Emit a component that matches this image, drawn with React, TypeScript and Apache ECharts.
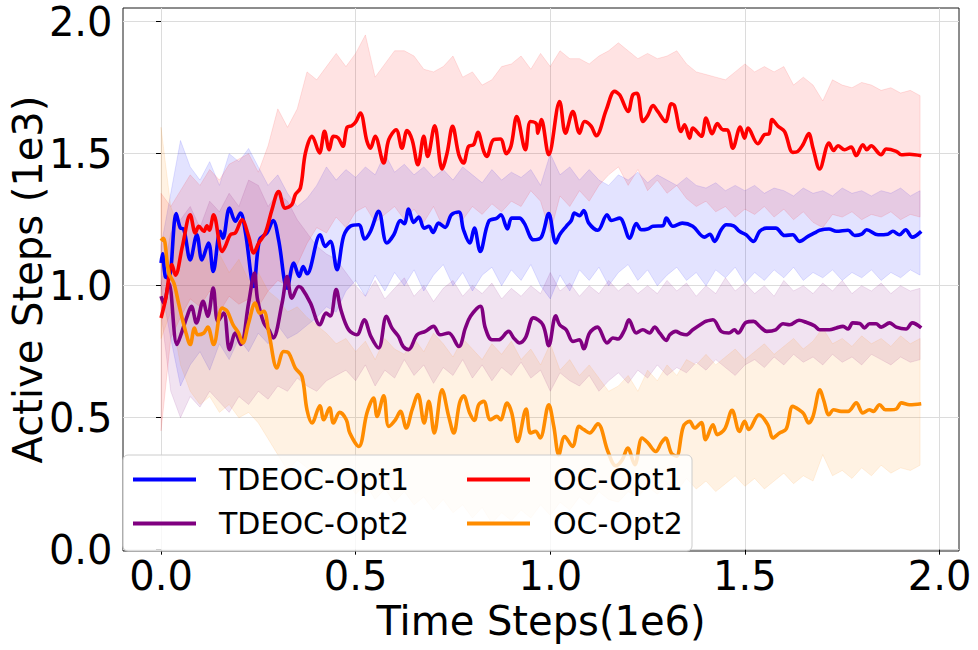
import React, { useEffect, useRef } from 'react';
import * as echarts from 'echarts';

const FONT = 'DejaVu Sans';

// Axis ticks (time in 1e6 steps, active steps in 1e3)
const X_TICKS = [0, 0.5, 1, 1.5, 2];
const Y_TICKS = [0, 0.5, 1, 1.5, 2];

// Std bands are sampled every BAND_STEP (1e6 time steps), from 0 to 1.95
const BAND_STEP = 0.025;

// ---- TDEOC-Opt1 ----
const TDEOC_OPT1_MEAN = [
  [0, 1.086], [0.004, 1.121], [0.011, 1.035], [0.02, 1.03], [0.039, 1.273], [0.05, 1.218], [0.058, 1.215],
  [0.075, 1.098], [0.092, 1.193], [0.105, 1.098], [0.122, 1.162], [0.134, 1.054], [0.152, 1.206], [0.159, 1.18],
  [0.176, 1.294], [0.191, 1.244], [0.204, 1.275], [0.217, 1.2], [0.238, 0.997], [0.253, 1.174], [0.272, 1.2],
  [0.288, 1.247], [0.302, 1.174], [0.324, 0.991], [0.341, 1.086], [0.355, 1.035], [0.365, 1.073], [0.375, 1.045],
  [0.409, 1.193], [0.422, 1.149], [0.435, 1.168], [0.452, 1.061], [0.469, 1.187], [0.486, 1.225], [0.508, 1.231],
  [0.523, 1.177], [0.538, 1.206], [0.559, 1.282], [0.58, 1.162], [0.598, 1.193], [0.615, 1.247], [0.625, 1.235],
  [0.636, 1.29], [0.649, 1.24], [0.662, 1.26], [0.676, 1.218], [0.688, 1.225], [0.699, 1.202], [0.713, 1.237],
  [0.73, 1.221], [0.746, 1.269], [0.765, 1.279], [0.777, 1.212], [0.793, 1.162], [0.805, 1.218], [0.82, 1.13],
  [0.842, 1.244], [0.863, 1.256], [0.873, 1.269], [0.89, 1.215], [0.901, 1.256], [0.921, 1.256], [0.933, 1.237],
  [0.957, 1.174], [0.977, 1.184], [0.996, 1.273], [1.014, 1.162], [1.024, 1.193], [1.041, 1.225], [1.054, 1.247],
  [1.062, 1.275], [1.075, 1.265], [1.086, 1.285], [1.099, 1.237], [1.122, 1.21], [1.146, 1.269], [1.157, 1.247],
  [1.178, 1.256], [1.204, 1.18], [1.221, 1.235], [1.234, 1.212], [1.25, 1.215], [1.264, 1.225], [1.289, 1.227],
  [1.298, 1.256], [1.315, 1.225], [1.339, 1.237], [1.366, 1.225], [1.396, 1.184], [1.41, 1.195], [1.422, 1.168],
  [1.439, 1.212], [1.452, 1.231], [1.471, 1.227], [1.486, 1.206], [1.503, 1.193], [1.522, 1.168], [1.538, 1.206],
  [1.555, 1.218], [1.579, 1.218], [1.602, 1.19], [1.623, 1.193], [1.64, 1.168], [1.662, 1.187], [1.679, 1.2],
  [1.692, 1.21], [1.716, 1.215], [1.735, 1.206], [1.765, 1.21], [1.782, 1.19], [1.8, 1.195], [1.813, 1.212],
  [1.842, 1.193], [1.867, 1.195], [1.88, 1.206], [1.897, 1.193], [1.913, 1.212], [1.93, 1.184], [1.953, 1.206],
];
const TDEOC_OPT1_HI = [
  1.15, 1.35, 1.55, 1.45, 1.40, 1.47, 1.38, 1.50, 1.47, 1.52,
  1.45, 1.38, 1.42, 1.35, 1.30, 1.33, 1.38, 1.45, 1.40, 1.44,
  1.41, 1.45, 1.42, 1.50, 1.43, 1.46, 1.42, 1.45, 1.41, 1.44,
  1.40, 1.45, 1.42, 1.39, 1.44, 1.40, 1.43, 1.41, 1.44, 1.38,
  1.50, 1.42, 1.45, 1.40, 1.44, 1.40, 1.38, 1.42, 1.40, 1.43,
  1.39, 1.42, 1.40, 1.38, 1.41, 1.38, 1.37, 1.39, 1.36, 1.38,
  1.36, 1.38, 1.35, 1.37, 1.36, 1.34, 1.37, 1.35, 1.36, 1.34,
  1.37, 1.35, 1.36, 1.34, 1.36, 1.35, 1.37, 1.34, 1.36,
];
const TDEOC_OPT1_LO = [
  1.00, 0.80, 0.62, 0.70, 0.75, 0.68, 0.78, 0.72, 0.80, 0.75,
  0.82, 0.78, 0.85, 0.80, 0.82, 0.85, 0.88, 0.92, 0.90, 0.98,
  1.02, 0.96, 1.04, 0.98, 1.05, 1.00, 1.06, 0.98, 1.04, 1.08,
  1.00, 1.05, 0.98, 1.04, 1.07, 1.00, 1.06, 1.02, 1.08, 1.00,
  0.95, 1.04, 0.98, 1.06, 1.02, 1.07, 1.00, 1.05, 1.08, 1.02,
  1.06, 1.00, 1.04, 1.07, 1.02, 1.05, 1.00, 1.06, 1.03, 1.07,
  1.01, 1.05, 1.02, 1.06, 1.03, 1.07, 1.02, 1.05, 1.03, 1.06,
  1.02, 1.05, 1.03, 1.06, 1.02, 1.05, 1.03, 1.06, 1.04,
];

// ---- TDEOC-Opt2 ----
const TDEOC_OPT2_MEAN = [
  [0, 0.96], [0.007, 0.934], [0.02, 1.01], [0.041, 0.777], [0.054, 0.827], [0.067, 0.884], [0.078, 0.922],
  [0.091, 0.859], [0.108, 0.941], [0.12, 0.884], [0.134, 0.991], [0.146, 0.865], [0.161, 0.896], [0.176, 0.758],
  [0.191, 0.821], [0.205, 0.777], [0.225, 0.934], [0.24, 1.048], [0.248, 0.947], [0.264, 0.859], [0.277, 0.833],
  [0.288, 0.802], [0.311, 0.934], [0.324, 1.035], [0.336, 0.953], [0.354, 0.997], [0.362, 0.99], [0.384, 0.934],
  [0.408, 0.852], [0.424, 0.896], [0.435, 0.885], [0.45, 0.985], [0.462, 0.909], [0.482, 0.833], [0.503, 0.814],
  [0.522, 0.871], [0.539, 0.808], [0.559, 0.764], [0.579, 0.884], [0.593, 0.84], [0.61, 0.808], [0.622, 0.77],
  [0.636, 0.758], [0.658, 0.814], [0.679, 0.827], [0.7, 0.846], [0.717, 0.814], [0.739, 0.821], [0.765, 0.77],
  [0.782, 0.84], [0.795, 0.884], [0.82, 0.922], [0.833, 0.84], [0.85, 0.795], [0.867, 0.795], [0.893, 0.827],
  [0.906, 0.802], [0.921, 0.783], [0.936, 0.802], [0.957, 0.878], [0.981, 0.852], [0.996, 0.773], [1.014, 0.886],
  [1.024, 0.852], [1.041, 0.833], [1.058, 0.789], [1.075, 0.795], [1.086, 0.761], [1.101, 0.821], [1.121, 0.843],
  [1.146, 0.783], [1.161, 0.802], [1.174, 0.798], [1.191, 0.833], [1.202, 0.871], [1.221, 0.821], [1.238, 0.833],
  [1.255, 0.821], [1.268, 0.843], [1.281, 0.821], [1.298, 0.793], [1.307, 0.814], [1.322, 0.827], [1.336, 0.818],
  [1.349, 0.814], [1.366, 0.833], [1.392, 0.859], [1.4, 0.865], [1.418, 0.871], [1.439, 0.827], [1.459, 0.821],
  [1.473, 0.833], [1.482, 0.821], [1.503, 0.861], [1.522, 0.865], [1.538, 0.846], [1.556, 0.827], [1.579, 0.833],
  [1.598, 0.856], [1.615, 0.852], [1.639, 0.869], [1.658, 0.861], [1.679, 0.848], [1.692, 0.833], [1.717, 0.833],
  [1.735, 0.84], [1.752, 0.846], [1.765, 0.836], [1.777, 0.859], [1.795, 0.857], [1.807, 0.84], [1.82, 0.856],
  [1.837, 0.856], [1.85, 0.843], [1.872, 0.859], [1.889, 0.843], [1.914, 0.836], [1.93, 0.859], [1.953, 0.84],
];
const TDEOC_OPT2_HI = [
  1.00, 1.20, 1.25, 1.30, 1.22, 1.32, 1.28, 1.35, 1.30, 1.40,
  1.38, 1.30, 1.35, 1.32, 1.25, 1.20, 1.15, 1.12, 1.10, 1.05,
  1.00, 0.96, 1.02, 0.95, 0.99, 1.03, 0.96, 1.00, 0.94, 0.99,
  1.02, 0.96, 1.00, 0.97, 1.01, 0.95, 0.99, 0.96, 1.00, 0.97,
  1.05, 0.98, 1.01, 0.96, 1.00, 0.97, 1.02, 0.98, 1.01, 0.97,
  1.00, 0.97, 1.02, 0.98, 1.01, 0.96, 1.00, 0.97, 1.03, 0.98,
  1.01, 0.97, 1.00, 0.96, 1.02, 0.98, 1.00, 0.97, 1.01, 0.98,
  1.02, 0.97, 1.00, 0.98, 1.01, 0.97, 1.00, 0.98, 0.99,
];
const TDEOC_OPT2_LO = [
  0.90, 0.60, 0.50, 0.58, 0.54, 0.60, 0.56, 0.52, 0.58, 0.55,
  0.60, 0.57, 0.62, 0.60, 0.65, 0.62, 0.60, 0.64, 0.66, 0.68,
  0.64, 0.70, 0.62, 0.68, 0.65, 0.72, 0.66, 0.70, 0.63, 0.69,
  0.66, 0.72, 0.65, 0.70, 0.64, 0.69, 0.66, 0.71, 0.65, 0.68,
  0.60, 0.67, 0.64, 0.62, 0.66, 0.60, 0.64, 0.67, 0.63, 0.68,
  0.65, 0.70, 0.66, 0.69, 0.67, 0.71, 0.68, 0.72, 0.69, 0.66,
  0.70, 0.72, 0.69, 0.73, 0.70, 0.74, 0.71, 0.73, 0.70, 0.74,
  0.71, 0.73, 0.70, 0.74, 0.72, 0.70, 0.73, 0.71, 0.72,
];

// ---- OC-Opt1 ----
const OC_OPT1_MEAN = [
  [0, 0.878], [0.012, 0.95], [0.028, 1.08], [0.037, 1.04], [0.055, 1.15], [0.075, 1.269], [0.088, 1.2],
  [0.097, 1.225], [0.11, 1.206], [0.118, 1.227], [0.124, 1.21], [0.135, 1.269], [0.157, 1.13], [0.165, 1.149],
  [0.178, 1.193], [0.191, 1.2], [0.208, 1.25], [0.225, 1.187], [0.238, 1.124], [0.251, 1.162], [0.268, 1.2],
  [0.285, 1.288], [0.302, 1.357], [0.319, 1.294], [0.336, 1.307], [0.345, 1.345], [0.358, 1.37], [0.371, 1.503],
  [0.388, 1.566], [0.407, 1.503], [0.42, 1.585], [0.432, 1.515], [0.443, 1.566], [0.455, 1.56], [0.467, 1.528],
  [0.478, 1.6], [0.49, 1.606], [0.5, 1.62], [0.512, 1.654], [0.529, 1.547], [0.538, 1.521], [0.55, 1.566],
  [0.572, 1.465], [0.585, 1.553], [0.604, 1.591], [0.619, 1.521], [0.632, 1.588], [0.645, 1.553], [0.66, 1.458],
  [0.675, 1.566], [0.685, 1.49], [0.703, 1.606], [0.722, 1.442], [0.735, 1.503], [0.749, 1.604], [0.765, 1.496],
  [0.777, 1.465], [0.79, 1.528], [0.803, 1.534], [0.814, 1.581], [0.829, 1.509], [0.837, 1.49], [0.854, 1.553],
  [0.872, 1.556], [0.887, 1.5], [0.899, 1.528], [0.914, 1.641], [0.936, 1.515], [0.949, 1.622], [0.964, 1.614],
  [0.968, 1.578], [0.977, 1.629], [0.996, 1.496], [1.024, 1.698], [1.039, 1.578], [1.058, 1.66], [1.075, 1.578],
  [1.088, 1.622], [1.105, 1.604], [1.118, 1.568], [1.144, 1.667], [1.165, 1.736], [1.178, 1.723], [1.2, 1.66],
  [1.212, 1.723], [1.223, 1.729], [1.238, 1.622], [1.25, 1.644], [1.264, 1.682], [1.276, 1.66], [1.296, 1.622],
  [1.311, 1.689], [1.319, 1.682], [1.336, 1.584], [1.345, 1.61], [1.358, 1.559], [1.366, 1.597], [1.388, 1.566],
  [1.4, 1.635], [1.416, 1.576], [1.429, 1.614], [1.443, 1.591], [1.455, 1.59], [1.469, 1.521], [1.488, 1.601],
  [1.499, 1.559], [1.508, 1.597], [1.533, 1.538], [1.55, 1.572], [1.562, 1.576], [1.57, 1.629], [1.585, 1.604],
  [1.602, 1.584], [1.623, 1.505], [1.636, 1.509], [1.649, 1.534], [1.664, 1.576], [1.675, 1.521], [1.692, 1.442],
  [1.716, 1.54], [1.728, 1.512], [1.739, 1.53], [1.756, 1.515], [1.773, 1.525], [1.786, 1.493], [1.803, 1.534],
  [1.813, 1.515], [1.824, 1.53], [1.85, 1.496], [1.863, 1.518], [1.889, 1.509], [1.902, 1.496], [1.923, 1.498],
  [1.953, 1.492],
];
const OC_OPT1_HI = [
  1.35, 1.30, 1.36, 1.42, 1.38, 1.44, 1.40, 1.46, 1.48, 1.50,
  1.43, 1.53, 1.67, 1.60, 1.67, 1.81, 1.78, 1.83, 1.88, 1.83,
  1.88, 1.95, 1.79, 1.84, 1.89, 1.89, 1.87, 1.82, 1.81, 1.83,
  1.87, 1.79, 1.81, 1.76, 1.78, 1.83, 1.84, 1.87, 1.82, 1.88,
  1.83, 1.89, 1.86, 1.86, 1.84, 1.87, 1.89, 1.92, 1.89, 1.86,
  1.88, 1.86, 1.87, 1.89, 1.84, 1.81, 1.80, 1.79, 1.78, 1.81,
  1.84, 1.81, 1.83, 1.81, 1.83, 1.76, 1.79, 1.76, 1.70, 1.78,
  1.76, 1.75, 1.77, 1.76, 1.74, 1.75, 1.73, 1.74, 1.72,
];
const OC_OPT1_LO = [
  0.45, 0.80, 0.88, 0.95, 0.92, 0.98, 0.90, 0.96, 0.93, 0.95,
  0.92, 0.98, 1.02, 1.00, 1.08, 1.16, 1.22, 1.20, 1.26, 1.22,
  1.28, 1.30, 1.24, 1.27, 1.30, 1.25, 1.29, 1.24, 1.30, 1.22,
  1.28, 1.25, 1.30, 1.27, 1.31, 1.28, 1.32, 1.30, 1.36, 1.32,
  1.20, 1.34, 1.30, 1.36, 1.32, 1.38, 1.42, 1.45, 1.38, 1.44,
  1.36, 1.40, 1.35, 1.38, 1.33, 1.30, 1.32, 1.28, 1.30, 1.26,
  1.29, 1.27, 1.30, 1.26, 1.29, 1.25, 1.28, 1.24, 1.22, 1.27,
  1.26, 1.28, 1.25, 1.27, 1.26, 1.28, 1.25, 1.27, 1.26,
];

// ---- OC-Opt2 ----
const OC_OPT2_MEAN = [
  [0, 1.17], [0.006, 1.18], [0.02, 1.048], [0.033, 1.01], [0.045, 0.934], [0.063, 0.827], [0.075, 0.777],
  [0.086, 0.84], [0.094, 0.814], [0.11, 0.821], [0.12, 0.843], [0.135, 0.777], [0.157, 0.915], [0.17, 0.903],
  [0.185, 0.852], [0.199, 0.821], [0.21, 0.783], [0.225, 0.859], [0.242, 0.934], [0.253, 0.896], [0.264, 0.903],
  [0.277, 0.821], [0.298, 0.688], [0.315, 0.751], [0.328, 0.745], [0.345, 0.688], [0.362, 0.657], [0.375, 0.53],
  [0.388, 0.48], [0.408, 0.545], [0.418, 0.492], [0.433, 0.537], [0.443, 0.48], [0.459, 0.52], [0.476, 0.492],
  [0.485, 0.442], [0.508, 0.391], [0.529, 0.518], [0.546, 0.574], [0.555, 0.505], [0.572, 0.583], [0.585, 0.467],
  [0.602, 0.492], [0.615, 0.524], [0.63, 0.461], [0.645, 0.53], [0.66, 0.588], [0.676, 0.48], [0.688, 0.562],
  [0.702, 0.442], [0.722, 0.606], [0.739, 0.505], [0.752, 0.442], [0.767, 0.556], [0.777, 0.583], [0.793, 0.518],
  [0.805, 0.49], [0.816, 0.549], [0.829, 0.562], [0.846, 0.492], [0.863, 0.505], [0.872, 0.492], [0.889, 0.555],
  [0.901, 0.518], [0.916, 0.41], [0.938, 0.533], [0.949, 0.442], [0.962, 0.448], [0.974, 0.423], [0.996, 0.549],
  [1.009, 0.467], [1.022, 0.36], [1.037, 0.429], [1.057, 0.391], [1.074, 0.467], [1.086, 0.455], [1.101, 0.442],
  [1.122, 0.477], [1.148, 0.372], [1.168, 0.318], [1.185, 0.341], [1.199, 0.385], [1.217, 0.322], [1.236, 0.423],
  [1.251, 0.404], [1.271, 0.372], [1.285, 0.404], [1.296, 0.423], [1.311, 0.366], [1.324, 0.354], [1.342, 0.467],
  [1.358, 0.486], [1.371, 0.461], [1.388, 0.482], [1.399, 0.417], [1.418, 0.473], [1.429, 0.436], [1.448, 0.457],
  [1.467, 0.528], [1.486, 0.448], [1.499, 0.486], [1.51, 0.455], [1.536, 0.511], [1.559, 0.473], [1.572, 0.423],
  [1.589, 0.442], [1.606, 0.457], [1.623, 0.543], [1.639, 0.53], [1.651, 0.515], [1.664, 0.48], [1.675, 0.505],
  [1.693, 0.606], [1.702, 0.568], [1.716, 0.511], [1.728, 0.53], [1.747, 0.524], [1.765, 0.524], [1.786, 0.556],
  [1.803, 0.518], [1.82, 0.53], [1.83, 0.524], [1.846, 0.549], [1.861, 0.53], [1.875, 0.53], [1.889, 0.533],
  [1.902, 0.556], [1.923, 0.549], [1.953, 0.553],
];
const OC_OPT2_HI = [
  1.60, 1.30, 1.20, 1.10, 1.15, 1.08, 1.12, 1.05, 1.10, 1.02,
  1.05, 0.98, 0.95, 0.90, 0.92, 0.88, 0.85, 0.82, 0.78, 0.80,
  0.75, 0.79, 0.72, 0.80, 0.76, 0.74, 0.80, 0.75, 0.82, 0.78,
  0.73, 0.80, 0.76, 0.72, 0.78, 0.74, 0.79, 0.72, 0.76, 0.70,
  0.78, 0.68, 0.72, 0.66, 0.70, 0.65, 0.60, 0.62, 0.66, 0.60,
  0.68, 0.64, 0.70, 0.66, 0.72, 0.70, 0.74, 0.70, 0.73, 0.76,
  0.72, 0.75, 0.78, 0.74, 0.77, 0.80, 0.76, 0.79, 0.84, 0.78,
  0.80, 0.77, 0.81, 0.78, 0.80, 0.77, 0.81, 0.78, 0.80,
];
const OC_OPT2_LO = [
  0.80, 0.90, 0.70, 0.60, 0.55, 0.58, 0.52, 0.55, 0.50, 0.52,
  0.48, 0.42, 0.36, 0.30, 0.34, 0.31, 0.28, 0.30, 0.24, 0.27,
  0.21, 0.25, 0.19, 0.23, 0.18, 0.22, 0.17, 0.20, 0.15, 0.19,
  0.14, 0.17, 0.12, 0.16, 0.10, 0.14, 0.11, 0.15, 0.12, 0.17,
  0.13, 0.18, 0.15, 0.20, 0.17, 0.22, 0.19, 0.18, 0.22, 0.20,
  0.24, 0.21, 0.25, 0.22, 0.27, 0.23, 0.26, 0.22, 0.25, 0.28,
  0.24, 0.27, 0.23, 0.26, 0.29, 0.25, 0.28, 0.26, 0.36, 0.28,
  0.30, 0.27, 0.31, 0.28, 0.32, 0.29, 0.31, 0.30, 0.32,
];

type Curve = {
  name: string;
  color: string;
  fill: string;
  mean: number[][];
  hi: number[];
  lo: number[];
};

// Plot order: later curves are drawn on top
const CURVES: Curve[] = [
  { name: 'TDEOC-Opt1', color: '#0000ff', fill: 'rgba(0,0,255,0.11)', mean: TDEOC_OPT1_MEAN, hi: TDEOC_OPT1_HI, lo: TDEOC_OPT1_LO },
  { name: 'TDEOC-Opt2', color: '#800080', fill: 'rgba(128,0,128,0.11)', mean: TDEOC_OPT2_MEAN, hi: TDEOC_OPT2_HI, lo: TDEOC_OPT2_LO },
  { name: 'OC-Opt1', color: '#ff0000', fill: 'rgba(255,0,0,0.11)', mean: OC_OPT1_MEAN, hi: OC_OPT1_HI, lo: OC_OPT1_LO },
  { name: 'OC-Opt2', color: '#ff8c00', fill: 'rgba(255,140,0,0.11)', mean: OC_OPT2_MEAN, hi: OC_OPT2_HI, lo: OC_OPT2_LO },
];

// Two-column legend: left column TDEOC, right column OC
const LEGEND_SLOTS = [
  { name: 'TDEOC-Opt1', left: 133, top: 464.5 },
  { name: 'TDEOC-Opt2', left: 133, top: 508.5 },
  { name: 'OC-Opt1', left: 467, top: 464.5 },
  { name: 'OC-Opt2', left: 467, top: 508.5 },
];

const GRID = { left: 123, top: 8, width: 836, height: 543 };

function bandSeries(c: Curve) {
  const xs = c.hi.map((_, i) => i * BAND_STEP);
  return {
    type: 'custom',
    name: c.name + ' std',
    silent: true,
    z: 1,
    clip: true,
    data: xs.map((x, i) => [x, c.lo[i], c.hi[i]]),
    encode: { x: 0, y: [1, 2] },
    renderItem: (params: any, api: any) => {
      if (params.dataIndex !== 0) return;
      const top = xs.map((x, i) => api.coord([x, c.hi[i]]));
      const bottom = xs.map((x, i) => api.coord([x, c.lo[i]])).reverse();
      return {
        type: 'polygon',
        shape: { points: top.concat(bottom) },
        style: { fill: c.fill, stroke: c.fill, lineWidth: 1 },
      };
    },
  };
}

function lineSeries(c: Curve) {
  return {
    type: 'line',
    name: c.name,
    data: c.mean,
    z: 2,
    showSymbol: false,
    symbol: 'none',
    smooth: 0.35,
    clip: true,
    itemStyle: { color: c.color },
    lineStyle: { color: c.color, width: 3.6 },
  };
}

function buildOption() {
  const tickFmt = (v: number) => v.toFixed(1);
  return {
    animation: false,
    backgroundColor: '#ffffff',
    grid: {
      ...GRID,
      outerBoundsMode: 'none',
      containLabel: false,
      show: true,
      borderColor: '#1a1a1a',
      borderWidth: 1,
      backgroundColor: 'transparent',
    },
    xAxis: {
      type: 'value',
      min: -0.0977,
      max: 2.05,
      name: 'Time Steps(1e6)',
      nameLocation: 'middle',
      nameGap: 50,
      nameMoveOverlap: false,
      nameTextStyle: { fontFamily: FONT, fontSize: 40, color: '#000' },
      axisLine: { show: false },
      axisTick: { show: true, customValues: X_TICKS, length: 5, lineStyle: { color: '#000', width: 1 } },
      axisLabel: { customValues: X_TICKS, formatter: tickFmt, margin: 5, fontFamily: FONT, fontSize: 40, color: '#000' },
      splitLine: { show: true, lineStyle: { color: '#dcdcdc', width: 1 } },
    },
    yAxis: {
      type: 'value',
      min: -0.005,
      max: 2.052,
      name: 'Active Steps (1e3)',
      nameLocation: 'middle',
      nameGap: 75,
      nameMoveOverlap: false,
      nameTextStyle: { fontFamily: FONT, fontSize: 40, color: '#000' },
      axisLine: { show: false },
      axisTick: { show: true, customValues: Y_TICKS, length: 5, lineStyle: { color: '#000', width: 1 } },
      axisLabel: { customValues: Y_TICKS, formatter: tickFmt, margin: 10.5, fontFamily: FONT, fontSize: 40, color: '#000' },
      splitLine: { show: true, lineStyle: { color: '#dcdcdc', width: 1 } },
    },
    legend: LEGEND_SLOTS.map((s) => ({
      data: [s.name],
      left: s.left,
      top: s.top,
      padding: 0,
      itemGap: 0,
      itemWidth: 63,
      itemHeight: 4,
      icon: 'rect',
      selectedMode: false,
      z: 5,
      textStyle: { fontFamily: FONT, fontSize: 30, color: '#000', lineHeight: 30, padding: [0, 0, 0, 18] },
    })),
    graphic: [
      {
        type: 'rect',
        z: 4,
        silent: true,
        shape: { x: 123, y: 455, width: 569, height: 96, r: 5 },
        style: { fill: 'rgba(255,255,255,0.8)', stroke: '#cccccc', lineWidth: 1 },
      },
    ],
    series: [...CURVES.map(bandSeries), ...CURVES.map(lineSeries)],
  };
}

export default function App() {
  const ref = useRef<HTMLDivElement>(null);
  useEffect(() => {
    if (!ref.current) return;
    const chart = echarts.init(ref.current, null, { renderer: 'svg' });
    chart.setOption(buildOption() as any);
    return () => chart.dispose();
  }, []);
  return (
    <div
      ref={ref}
      style={{ position: 'absolute', left: 0, top: 0, width: 978, height: 650, background: '#fff' }}
    />
  );
}
